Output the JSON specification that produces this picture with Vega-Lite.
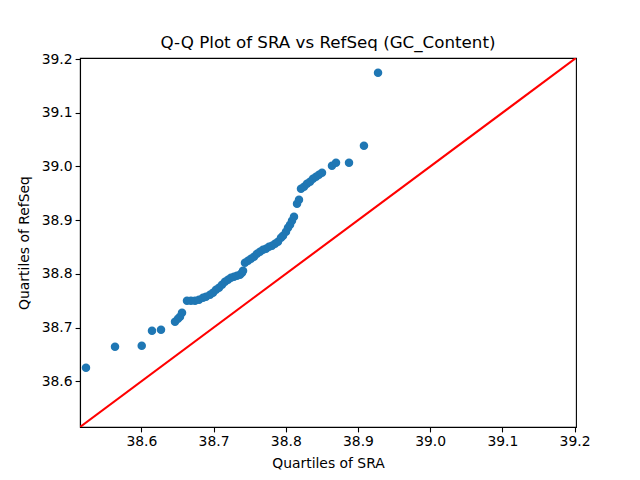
{
  "$schema": "https://vega.github.io/schema/vega-lite/v6.json",
  "width": 496,
  "height": 369,
  "autosize": {"type": "none"},
  "padding": {"left": 80, "top": 58, "right": 64, "bottom": 53},
  "background": "white",
  "title": {
    "text": "Q-Q Plot of SRA vs RefSeq (GC_Content)",
    "font": "DejaVu Sans",
    "fontSize": 16.7,
    "fontWeight": "normal",
    "color": "black",
    "offset": 0
  },
  "config": {
    "view": {"stroke": "black", "strokeWidth": 1.1},
    "axis": {
      "grid": false,
      "domainColor": "black",
      "domainWidth": 1.1,
      "tickColor": "black",
      "tickWidth": 1.1,
      "tickSize": 4.9,
      "labelFont": "DejaVu Sans",
      "labelFontSize": 13.9,
      "labelColor": "black",
      "labelPadding": 3,
      "titleFont": "DejaVu Sans",
      "titleFontSize": 13.9,
      "titleFontWeight": "normal",
      "titleColor": "black"
    }
  },
  "datasets": {
    "quantiles": [
      {"sra": 38.5233, "refseq": 38.6252},
      {"sra": 38.5635, "refseq": 38.6643},
      {"sra": 38.6005, "refseq": 38.6662},
      {"sra": 38.6147, "refseq": 38.6941},
      {"sra": 38.6272, "refseq": 38.6960},
      {"sra": 38.6466, "refseq": 38.7109},
      {"sra": 38.6507, "refseq": 38.7165},
      {"sra": 38.6535, "refseq": 38.7202},
      {"sra": 38.6563, "refseq": 38.7277},
      {"sra": 38.6632, "refseq": 38.7500},
      {"sra": 38.6687, "refseq": 38.7500},
      {"sra": 38.6743, "refseq": 38.7500},
      {"sra": 38.6798, "refseq": 38.7518},
      {"sra": 38.6854, "refseq": 38.7556},
      {"sra": 38.6895, "refseq": 38.7574},
      {"sra": 38.6951, "refseq": 38.7611},
      {"sra": 38.6992, "refseq": 38.7649},
      {"sra": 38.7034, "refseq": 38.7705},
      {"sra": 38.7075, "refseq": 38.7742},
      {"sra": 38.7117, "refseq": 38.7798},
      {"sra": 38.7158, "refseq": 38.7854},
      {"sra": 38.7200, "refseq": 38.7891},
      {"sra": 38.7241, "refseq": 38.7928},
      {"sra": 38.7283, "refseq": 38.7947},
      {"sra": 38.7324, "refseq": 38.7966},
      {"sra": 38.7366, "refseq": 38.7984},
      {"sra": 38.7394, "refseq": 38.8021},
      {"sra": 38.7408, "refseq": 38.8059},
      {"sra": 38.7435, "refseq": 38.8208},
      {"sra": 38.7477, "refseq": 38.8245},
      {"sra": 38.7518, "refseq": 38.8282},
      {"sra": 38.7560, "refseq": 38.8319},
      {"sra": 38.7601, "refseq": 38.8375},
      {"sra": 38.7643, "refseq": 38.8412},
      {"sra": 38.7685, "refseq": 38.8450},
      {"sra": 38.7726, "refseq": 38.8468},
      {"sra": 38.7768, "refseq": 38.8505},
      {"sra": 38.7809, "refseq": 38.8524},
      {"sra": 38.7851, "refseq": 38.8561},
      {"sra": 38.7892, "refseq": 38.8599},
      {"sra": 38.7934, "refseq": 38.8673},
      {"sra": 38.7962, "refseq": 38.8710},
      {"sra": 38.8003, "refseq": 38.8785},
      {"sra": 38.8031, "refseq": 38.8859},
      {"sra": 38.8059, "refseq": 38.8915},
      {"sra": 38.8086, "refseq": 38.8989},
      {"sra": 38.8114, "refseq": 38.9064},
      {"sra": 38.8156, "refseq": 38.9306},
      {"sra": 38.8183, "refseq": 38.9380},
      {"sra": 38.8211, "refseq": 38.9585},
      {"sra": 38.8253, "refseq": 38.9622},
      {"sra": 38.8294, "refseq": 38.9678},
      {"sra": 38.8336, "refseq": 38.9715},
      {"sra": 38.8377, "refseq": 38.9771},
      {"sra": 38.8419, "refseq": 38.9808},
      {"sra": 38.8460, "refseq": 38.9846},
      {"sra": 38.8502, "refseq": 38.9883},
      {"sra": 38.8640, "refseq": 39.0013},
      {"sra": 38.8696, "refseq": 39.0069},
      {"sra": 38.8876, "refseq": 39.0069},
      {"sra": 38.9083, "refseq": 39.0386},
      {"sra": 38.9278, "refseq": 39.1745}
    ],
    "diagonal": [
      {"sra": 38.515, "refseq": 38.515},
      {"sra": 39.202, "refseq": 39.202}
    ]
  },
  "layer": [
    {
      "data": {"name": "quantiles"},
      "mark": {"type": "point", "filled": true, "opacity": 1, "size": 72, "color": "#1f77b4"},
      "encoding": {
        "x": {
          "field": "sra",
          "type": "quantitative",
          "title": "Quartiles of SRA",
          "scale": {"domain": [38.515, 39.202], "nice": false, "zero": false},
          "axis": {"values": [38.6, 38.7, 38.8, 38.9, 39.0, 39.1, 39.2], "format": ".1f", "titlePadding": 8}
        },
        "y": {
          "field": "refseq",
          "type": "quantitative",
          "title": "Quartiles of RefSeq",
          "scale": {"domain": [38.515, 39.202], "nice": false, "zero": false},
          "axis": {"values": [38.6, 38.7, 38.8, 38.9, 39.0, 39.1, 39.2], "format": ".1f", "titlePadding": 10}
        }
      }
    },
    {
      "data": {"name": "diagonal"},
      "mark": {"type": "line", "color": "red", "strokeWidth": 2.1, "clip": true},
      "encoding": {
        "x": {"field": "sra", "type": "quantitative"},
        "y": {"field": "refseq", "type": "quantitative"}
      }
    }
  ]
}
